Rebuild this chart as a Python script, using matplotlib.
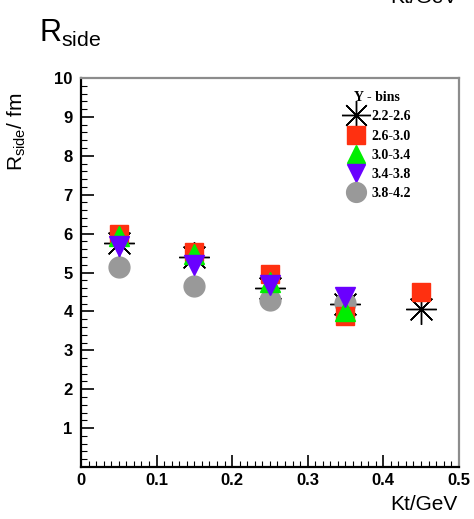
import matplotlib
matplotlib.use("Agg")
import matplotlib.pyplot as plt
from matplotlib.ticker import MultipleLocator

# Kt bin centres and R_side values for each rapidity bin
kt = [0.05, 0.15, 0.25, 0.35, 0.45]
kt4 = [0.05, 0.15, 0.25, 0.35]
r_22_26 = [5.75, 5.40, 4.60, 4.20, 4.05]
r_26_30 = [6.00, 5.52, 4.95, 3.88, 4.50]
r_30_34 = [5.95, 5.47, 4.75, 4.00]
r_34_38 = [5.68, 5.20, 4.68, 4.37]
r_38_42 = [5.15, 4.65, 4.30, 4.22]
ybins = ["2.2-2.6", "2.6-3.0", "3.0-3.4", "3.4-3.8", "3.8-4.2"]

plt.rcParams["font.family"] = ["Liberation Sans", "DejaVu Sans"]

fig = plt.figure(figsize=(4.74, 5.19), dpi=100)
ax = fig.add_axes([0.171, 0.1002, 0.797, 0.7495])

# drawing order: stars underneath, then circles, squares, triangles
h1, = ax.plot(kt, r_22_26, ls="none", marker=(8, 2, 0), ms=22, mew=1.0, color="black")
h5, = ax.plot(kt4, r_38_42, ls="none", marker="o", ms=15, color="#999999", mec="#999999")
h2, = ax.plot(kt, r_26_30, ls="none", marker="s", ms=13, color="#ff3010", mec="#ff3010")
h3, = ax.plot(kt4, r_30_34, ls="none", marker="^", ms=14, color="#00ee00", mec="#00ee00")
h4, = ax.plot(kt4, r_34_38, ls="none", marker="v", ms=14, color="#6a00ff", mec="#6a00ff")

ax.set_xlim(0, 0.5)
ax.set_ylim(0, 10)
ax.xaxis.set_minor_locator(MultipleLocator(0.01))
ax.yaxis.set_minor_locator(MultipleLocator(0.2))
ax.set_xticks([0, 0.1, 0.2, 0.3, 0.4, 0.5])
ax.set_xticklabels(["0", "0.1", "0.2", "0.3", "0.4", "0.5"])
ax.set_yticks(range(0, 11))
ax.set_yticklabels([""] + [str(i) for i in range(1, 11)])
ax.tick_params(which="major", direction="in", length=9, width=1.2,
               labelsize=12, top=False, right=False)
ax.tick_params(which="minor", direction="in", length=4, width=0.8,
               top=False, right=False)
for lab in ax.get_xticklabels() + ax.get_yticklabels():
    lab.set_fontweight("bold")
ax.tick_params(axis="x", pad=4)
ax.tick_params(axis="y", pad=6)

for s in ["left", "bottom"]:
    ax.spines[s].set_linewidth(1.6)
    ax.spines[s].set_color("black")
for s in ["top", "right"]:
    ax.spines[s].set_linewidth(1.6)
    ax.spines[s].set_color("#8c8c8c")

# titles and axis captions
fig.text(0.082, 0.935, r"R$_{\mathregular{side}}$", fontsize=22, ha="left", va="center")
fig.text(0.965, 1.005, "Kt/GeV", fontsize=15, ha="right", va="center")
fig.text(0.965, 0.027, "Kt/GeV", fontsize=15, ha="right", va="center")
fig.text(0.035, 0.745, r"R$_{\mathregular{side}}$/ fm", fontsize=15,
         rotation=90, ha="center", va="center")

leg = ax.legend([h1, h2, h3, h4, h5], ybins, title="Y - bins",
                loc="upper left", bbox_to_anchor=(0.672, 0.988), frameon=False,
                prop={"family": "Liberation Serif", "size": 10, "weight": "bold"},
                handletextpad=0.25, labelspacing=0.45, handlelength=1.8,
                borderaxespad=0.2, markerscale=0.95)
leg.get_title().set_fontfamily("Liberation Serif")
leg.get_title().set_fontweight("bold")
leg.get_title().set_fontsize(10)

fig.savefig("out.png", dpi=100)
